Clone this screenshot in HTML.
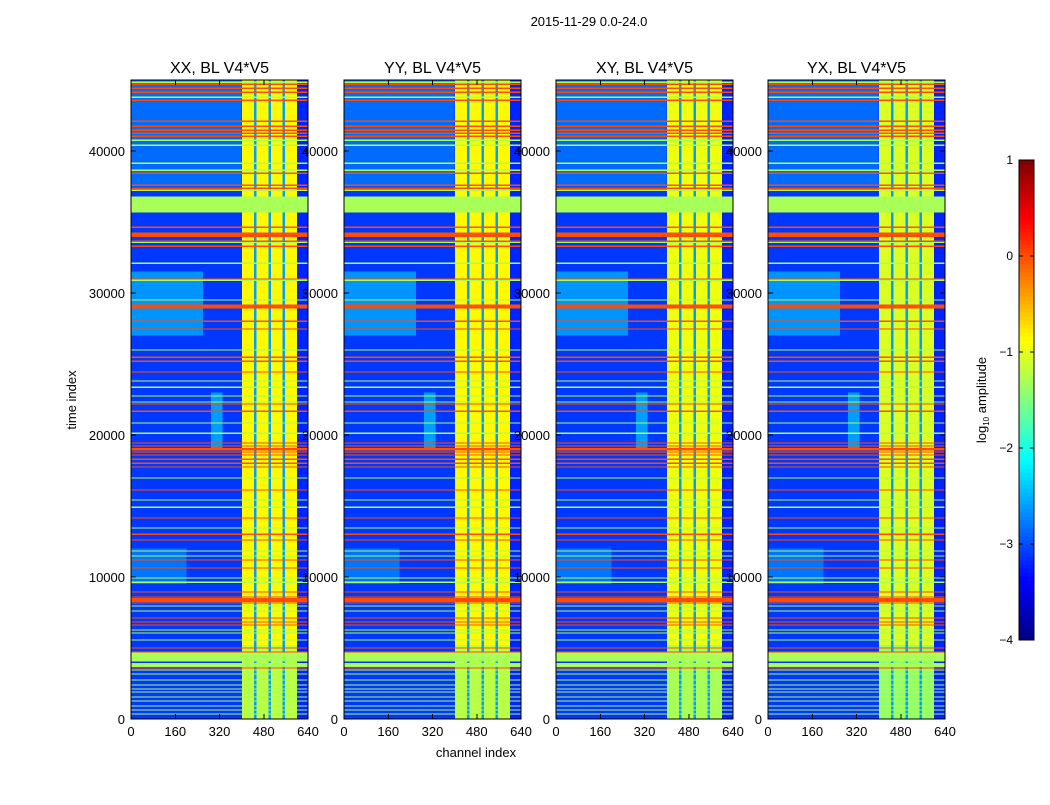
<!DOCTYPE html>
<html><head><meta charset="utf-8">
<style>
body{margin:0;background:#fff;}
svg text{font-family:"Liberation Sans",sans-serif;fill:#000;}
</style></head>
<body>
<svg id="fig" width="1050" height="800" viewBox="0 0 1050 800" xmlns="http://www.w3.org/2000/svg" shape-rendering="crispEdges">
<rect width="1050" height="800" fill="#fff"/>
<text x="589" y="26" font-size="13" text-anchor="middle">2015-11-29 0.0-24.0</text>
<text transform="translate(76,400) rotate(-90)" font-size="13" text-anchor="middle">time index</text>
<text x="476" y="757" font-size="13" text-anchor="middle">channel index</text>
<g id="panels"></g>
<g id="cbar"></g>
</svg>
<script>
// ---- data ----
const panelTitles = ["XX, BL V4*V5","YY, BL V4*V5","XY, BL V4*V5","YX, BL V4*V5"];
const xTicks = [0,160,320,480,640];
const yTicks = [0,10000,20000,30000,40000];
const cbTicks = [-4,-3,-2,-1,0,1];
const baseLevel = -3.1;
// background regions [tStart,tEnd,chStart,chEnd,value]
const regions = [
  [37500,45000,0,400,-2.85],
  [27000,31500,0,260,-2.65],
  [19000,23000,290,330,-2.6],
  [9500,12000,0,200,-2.8]
];
// per-panel level of the bright channel block
const bandLevel = [-0.85,-0.85,-0.95,-1.05];
const bandRange = [402,600];
// darker gaps inside the block [chStart,chEnd,value]
const chanGaps = [[445,454,-2.6],[497,507,-2.6],[548,557,-2.6]];
// right edge strip
const rightStrip = [[600,640,-3.2]];
// red (strong) horizontal lines, time index
const redTimes = [44700,44420,44140,43580,42100,41750,41470,41250,41040,38440,37590,37380,34640,34210,34000,33650,33300,30980,29150,29000,28020,27460,25480,25200,24430,22180,21680,19430,19220,18800,18590,18300,18020,17740,16120,14150,13020,12600,11190,10630,8940,8590,8380,8170,7110,6830,6620,5000,4720,3590];
const redLevel = 0.0;
// green horizontal lines
const greenTimes = [44850,43790,40760,40410,39140,38650,37240,33580,32100,30900,29500,25980,23800,23370,22740,22320,20840,20130,16970,15420,14920,13450,11830,11480,9930,9640,7960,7600,6270,6050,5560,3450,3170,2750,2390,2110,1900,1550,1270,920,630,350];
const greenLevel = -1.3;
// thick bands [timeCenter, timeHeight, value]
const thickBands = [[36230,1150,-1.3],[4360,650,-1.3],[3800,300,-1.3],[29050,250,0.0],[8380,300,0.0],[19000,200,0.0],[34100,250,0.0]];
const lineH = 90;

// ---- scales ----
const T_MAX = 45000, CH_MAX = 640;
const panelX = [131,344,556,768], PW = 177, PT = 80, PB = 719;
const NS = "http://www.w3.org/2000/svg";
function jet(v){
  const x = Math.max(0,Math.min(1,(v+4)/5));
  const c = f => Math.round(255*Math.max(0,Math.min(1,f)));
  return `rgb(${c(1.5-Math.abs(4*x-3))},${c(1.5-Math.abs(4*x-2))},${c(1.5-Math.abs(4*x-1))})`;
}
function el(tag, attrs, parent){
  const e = document.createElementNS(NS, tag);
  for (const k in attrs) e.setAttribute(k, attrs[k]);
  parent.appendChild(e); return e;
}
const panelsG = document.getElementById('panels');
panelTitles.forEach((title, p) => {
  const px = panelX[p];
  const xs = ch => px + ch / CH_MAX * PW;
  const ys = t => PB - t / T_MAX * (PB - PT);
  const g = el('g', {}, panelsG);
  
  
  const img = el('g', {}, g);
  
  
  function cell(t0,t1,c0,c1,v,name){
    const r = el('rect', {x:xs(c0), y:ys(t1), width:xs(c1)-xs(c0), height:Math.max(1,ys(t0)-ys(t1)), fill:jet(v)}, img);
    
    
  }
  cell(0,T_MAX,0,CH_MAX,baseLevel,'background');
  regions.forEach(r => cell(r[0],r[1],r[2],r[3],r[4],'region'));
  cell(0,T_MAX,bandRange[0],bandRange[1],bandLevel[p],'channel-block');
  cell(0,5200,bandRange[0],bandRange[1],bandLevel[p]-0.35,'channel-block-low');
  chanGaps.forEach(c => cell(0,T_MAX,c[0],c[1],c[2],'channel-gap'));
  rightStrip.forEach(c => cell(0,T_MAX,c[0],c[1],c[2],'right-strip'));
  greenTimes.forEach(t => cell(t-lineH/2,t+lineH/2,0,CH_MAX,greenLevel,'green-line'));
  redTimes.forEach(t => cell(t-lineH/2,t+lineH/2,0,CH_MAX,redLevel,'red-line'));
  thickBands.forEach(b => cell(b[0]-b[1]/2,b[0]+b[1]/2,0,CH_MAX,b[2],'thick-band'));
  const fr = el('rect', {x:px, y:PT, width:PW, height:PB-PT, fill:'none', stroke:'#000', 'stroke-width':1}, g);
  
  
  const tt = el('text', {x:px+PW/2, y:PT-7, 'font-size':16, 'text-anchor':'middle'}, g);
  tt.textContent = title;
  
  
  xTicks.forEach(v => {
    const x = xs(v);
    el('line', {x1:x, x2:x, y1:PB, y2:PB-5, stroke:'#000'}, g);
    el('line', {x1:x, x2:x, y1:PT, y2:PT+5, stroke:'#000'}, g);
    const lt = el('text', {x:x, y:PB+17, 'font-size':13, 'text-anchor':'middle'}, g);
    lt.textContent = v;
    
    
  });
  yTicks.forEach(v => {
    const y = ys(v);
    el('line', {x1:px, x2:px+5, y1:y, y2:y, stroke:'#000'}, g);
    el('line', {x1:px+PW, x2:px+PW-5, y1:y, y2:y, stroke:'#000'}, g);
    const lt = el('text', {x:px-6, y:y+5, 'font-size':13, 'text-anchor':'end'}, g);
    lt.textContent = v;
    
    
  });
});
// colorbar
const cb = document.getElementById('cbar');
const CBX = 1019, CBW = 15, CBT = 160, CBB = 640;
const cy = v => CBB - (v+4)/5*(CBB-CBT);
for (let i=0;i<120;i++){
  const v0 = -4 + i*5/120, v1 = v0 + 5/120;
  el('rect', {x:CBX, y:cy(v1), width:CBW, height:cy(v0)-cy(v1)+0.5, fill:jet((v0+v1)/2)}, cb);
}
el('rect', {x:CBX, y:CBT, width:CBW, height:CBB-CBT, fill:'none', stroke:'#000'}, cb);
cbTicks.forEach(v => {
  const y = cy(v);
  el('line', {x1:CBX, x2:CBX+4, y1:y, y2:y, stroke:'#000'}, cb);
  el('line', {x1:CBX+CBW, x2:CBX+CBW-4, y1:y, y2:y, stroke:'#000'}, cb);
  const t = el('text', {x:1013, y:y+4, 'font-size':12, 'text-anchor':'end'}, cb);
  t.textContent = (v<0 ? '\u2212'+(-v) : v);
  
  
});
const lab = el('text', {transform:'translate(986,400) rotate(-90)', 'font-size':13, 'text-anchor':'middle'}, cb);
lab.innerHTML = 'log<tspan font-size="8" dy="3">10</tspan><tspan dy="-3"> amplitude</tspan>';


</script>
</body></html>
